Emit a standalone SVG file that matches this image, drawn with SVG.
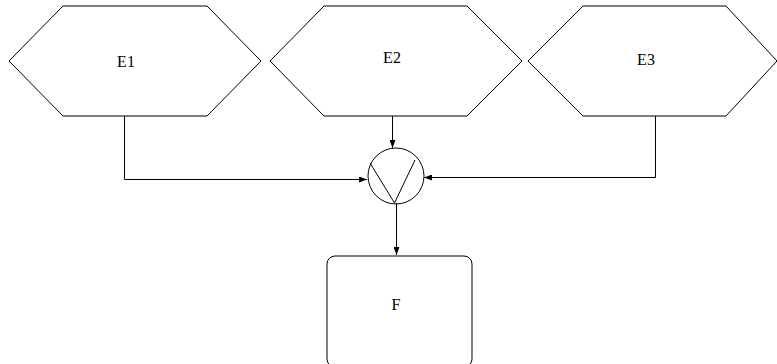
<svg xmlns="http://www.w3.org/2000/svg" width="777" height="364" viewBox="0 0 777 364">
<style>
.shape{fill:#fff;stroke:#000;stroke-width:1}
.hex{fill:#fff;stroke:#000;stroke-width:1}
.lbl{font-family:"Liberation Serif",serif;font-size:16px;fill:#000;text-anchor:middle}
.conn{fill:none;stroke:#000;stroke-width:1}
</style>
<defs>
<marker id="arr" markerWidth="8" markerHeight="6" refX="8" refY="3" orient="auto" markerUnits="userSpaceOnUse">
<path d="M0,0 L8,3 L0,6 Z" fill="#000"/>
</marker>
</defs>
<rect width="777" height="364" fill="#fff"/>
<g id="E1">
<polygon class="hex" points="9,61 63,6 207,6 261,61 207,116 63,116"/>
<text class="lbl" x="126" y="67">E1</text>
</g>
<g id="E2">
<polygon class="hex" points="270,61 324,6 467,6 522,61 467,116 324,116"/>
<text class="lbl" x="392" y="63">E2</text>
</g>
<g id="E3">
<polygon class="hex" points="528,61 583,6 726,6 777,61 726,116 583,116"/>
<text class="lbl" x="646" y="65">E3</text>
</g>
<g id="OR">
<circle class="shape" cx="396" cy="176" r="28"/>
<polyline class="conn" points="370,163 394.5,203 415,160"/>
</g>
<g id="F">
<rect class="shape" x="327" y="256" width="145" height="111" rx="8" ry="8"/>
<text class="lbl" x="396" y="310">F</text>
</g>
<g id="connectors">
<polyline class="conn" points="124.5,116 124.5,179.5 367,179.5" marker-end="url(#arr)"/>
<line class="conn" x1="392.5" y1="116" x2="392.5" y2="148" marker-end="url(#arr)"/>
<polyline class="conn" points="655.5,116 655.5,177.5 424,177.5" marker-end="url(#arr)"/>
<line class="conn" x1="396.5" y1="203" x2="396.5" y2="255" marker-end="url(#arr)"/>
</g>
</svg>
